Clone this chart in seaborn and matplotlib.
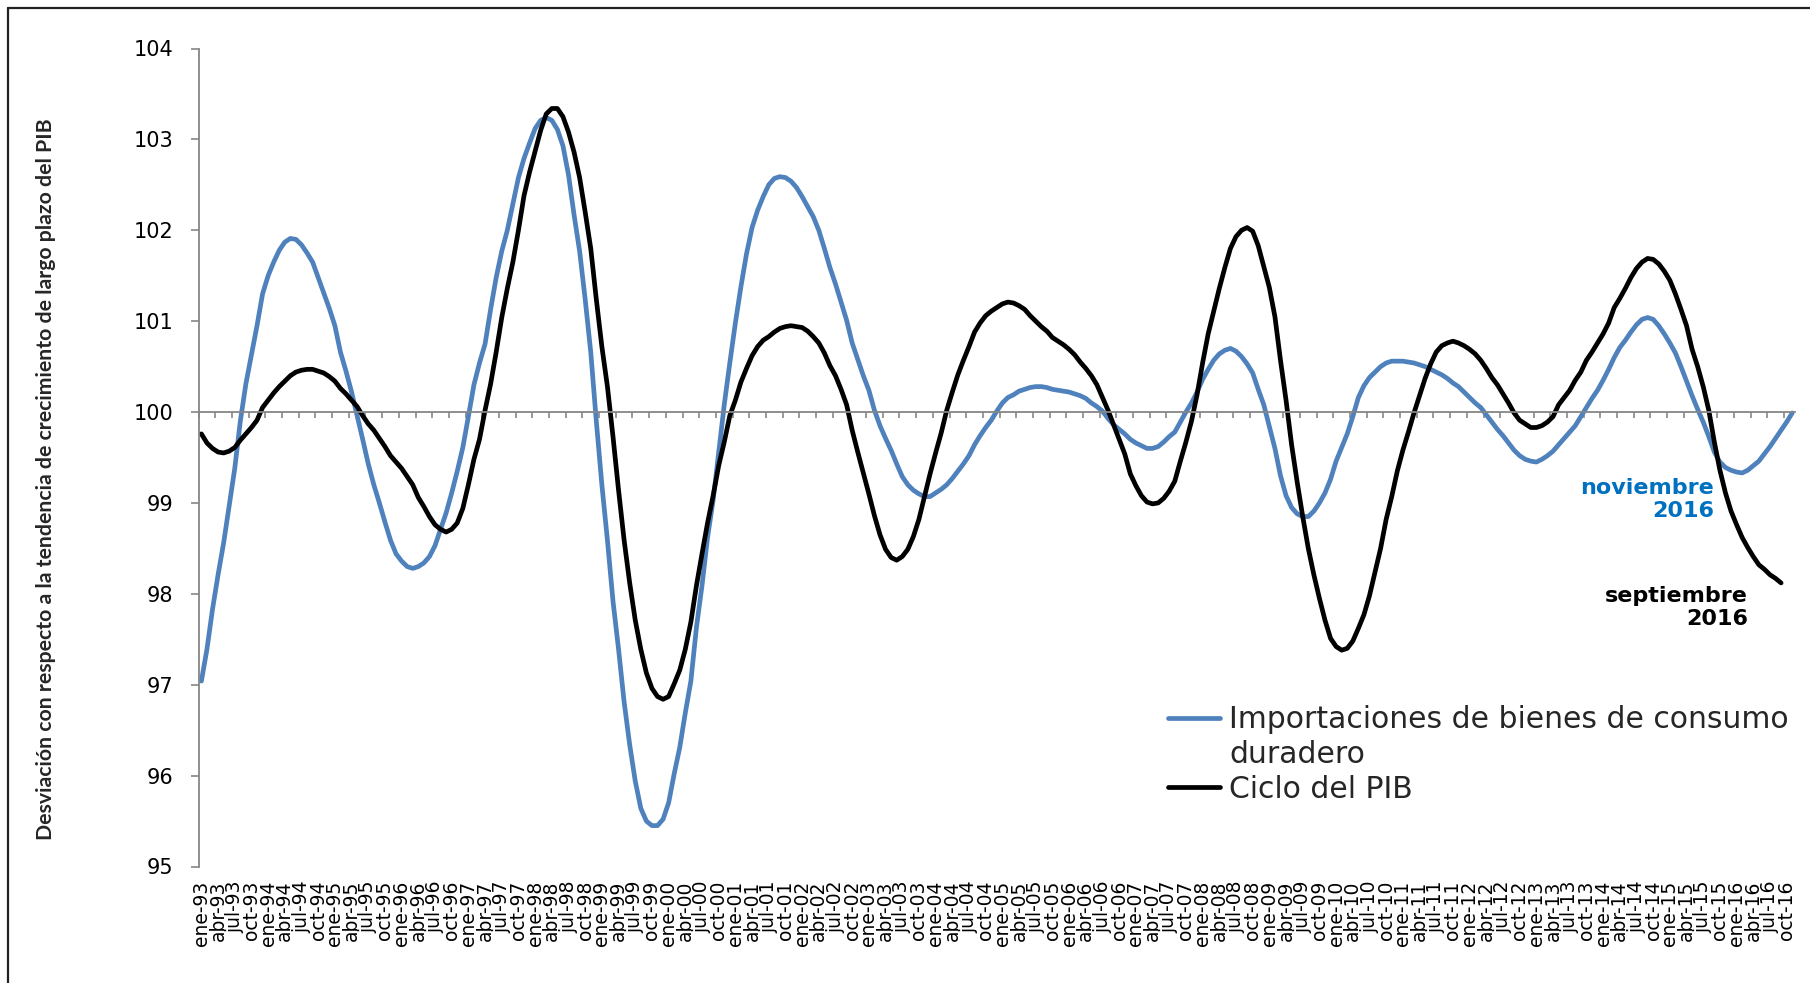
import numpy as np
import pandas as pd
import matplotlib
matplotlib.use("Agg")
import matplotlib.pyplot as plt
import seaborn as sns
from matplotlib.lines import Line2D

# ---------------- data ----------------
meses = ["ene", "feb", "mar", "abr", "may", "jun", "jul", "ago", "sep", "oct", "nov", "dic"]
anios = list(range(1993, 2017))

# Importaciones de bienes de consumo duradero (ene-93 .. nov-16)
importaciones = [
    97.04, 97.39, 97.83, 98.21, 98.56, 98.97, 99.38, 99.90, 100.31, 100.63, 100.95, 101.30,   # 1993
    101.50, 101.65, 101.78, 101.87, 101.91, 101.90, 101.84, 101.75, 101.65, 101.48, 101.31, 101.14,  # 1994
    100.95, 100.66, 100.45, 100.22, 99.96, 99.70, 99.43, 99.20, 99.00, 98.79, 98.59, 98.44,   # 1995
    98.36, 98.30, 98.28, 98.30, 98.34, 98.41, 98.53, 98.71, 98.89, 99.11, 99.35, 99.61,       # 1996
    99.95, 100.30, 100.54, 100.75, 101.13, 101.48, 101.77, 102.00, 102.29, 102.58, 102.79, 102.96,  # 1997
    103.12, 103.21, 103.24, 103.21, 103.11, 102.93, 102.61, 102.17, 101.77, 101.24, 100.66, 99.90,  # 1998
    99.20, 98.59, 97.92, 97.39, 96.81, 96.34, 95.94, 95.64, 95.50, 95.45, 95.45, 95.52,       # 1999
    95.70, 96.02, 96.31, 96.69, 97.04, 97.63, 98.09, 98.62, 99.03, 99.55, 100.08, 100.54,     # 2000
    100.98, 101.38, 101.74, 102.03, 102.22, 102.37, 102.50, 102.57, 102.59, 102.58, 102.54, 102.47,  # 2001
    102.37, 102.26, 102.15, 102.00, 101.80, 101.59, 101.41, 101.21, 101.01, 100.76, 100.58, 100.40,  # 2002
    100.24, 100.02, 99.85, 99.71, 99.58, 99.43, 99.29, 99.20, 99.14, 99.10, 99.07, 99.07,     # 2003
    99.11, 99.15, 99.20, 99.27, 99.35, 99.43, 99.52, 99.64, 99.74, 99.83, 99.91, 100.01,      # 2004
    100.10, 100.16, 100.19, 100.23, 100.25, 100.27, 100.28, 100.28, 100.27, 100.25, 100.24, 100.23,  # 2005
    100.22, 100.20, 100.18, 100.15, 100.10, 100.06, 100.01, 99.93, 99.86, 99.81, 99.76, 99.70,  # 2006
    99.66, 99.63, 99.60, 99.60, 99.62, 99.67, 99.73, 99.78, 99.89, 100.00, 100.10, 100.22,    # 2007
    100.36, 100.47, 100.57, 100.64, 100.68, 100.70, 100.67, 100.61, 100.53, 100.43, 100.25, 100.08,  # 2008
    99.84, 99.60, 99.30, 99.08, 98.95, 98.88, 98.85, 98.85, 98.91, 99.00, 99.11, 99.26,       # 2009
    99.46, 99.61, 99.76, 99.95, 100.16, 100.29, 100.38, 100.44, 100.50, 100.54, 100.56, 100.56,  # 2010
    100.56, 100.55, 100.54, 100.52, 100.50, 100.47, 100.44, 100.41, 100.37, 100.32, 100.28, 100.22,  # 2011
    100.16, 100.10, 100.05, 99.97, 99.89, 99.81, 99.74, 99.66, 99.58, 99.52, 99.48, 99.46,    # 2012
    99.45, 99.48, 99.52, 99.57, 99.64, 99.71, 99.78, 99.85, 99.95, 100.05, 100.15, 100.24,    # 2013
    100.35, 100.47, 100.60, 100.71, 100.79, 100.88, 100.96, 101.02, 101.04, 101.02, 100.95, 100.86,  # 2014
    100.76, 100.65, 100.50, 100.34, 100.18, 100.03, 99.89, 99.73, 99.56, 99.45, 99.39, 99.36,  # 2015
    99.34, 99.33, 99.36, 99.41, 99.46, 99.54, 99.62, 99.71, 99.80, 99.89, 99.99,              # 2016 (a nov)
]

# Ciclo del PIB (ene-93 .. sep-16)
ciclo_pib = [
    99.76, 99.66, 99.60, 99.56, 99.55, 99.57, 99.61, 99.69, 99.76, 99.83, 99.91, 100.05,      # 1993
    100.13, 100.21, 100.28, 100.34, 100.40, 100.44, 100.46, 100.47, 100.47, 100.45, 100.43, 100.39,  # 1994
    100.34, 100.26, 100.20, 100.13, 100.06, 99.96, 99.87, 99.80, 99.71, 99.62, 99.52, 99.45,  # 1995
    99.38, 99.29, 99.20, 99.06, 98.96, 98.85, 98.76, 98.71, 98.68, 98.71, 98.78, 98.94,       # 1996
    99.20, 99.48, 99.70, 100.02, 100.31, 100.66, 101.04, 101.36, 101.65, 102.00, 102.38, 102.64,  # 1997
    102.87, 103.10, 103.28, 103.34, 103.34, 103.25, 103.08, 102.86, 102.58, 102.20, 101.80, 101.24,  # 1998
    100.72, 100.28, 99.73, 99.14, 98.59, 98.12, 97.71, 97.39, 97.13, 96.96, 96.87, 96.84,     # 1999
    96.87, 97.01, 97.16, 97.39, 97.69, 98.09, 98.44, 98.78, 99.08, 99.41, 99.67, 99.96,       # 2000
    100.13, 100.33, 100.48, 100.62, 100.72, 100.79, 100.83, 100.88, 100.92, 100.94, 100.95, 100.94,  # 2001
    100.93, 100.89, 100.83, 100.76, 100.65, 100.51, 100.40, 100.25, 100.08, 99.80, 99.56, 99.33,  # 2002
    99.10, 98.86, 98.65, 98.49, 98.40, 98.37, 98.41, 98.49, 98.63, 98.82, 99.07, 99.32,       # 2003
    99.55, 99.77, 100.02, 100.22, 100.41, 100.57, 100.72, 100.88, 100.98, 101.06, 101.11, 101.15,  # 2004
    101.19, 101.21, 101.20, 101.17, 101.13, 101.06, 101.00, 100.94, 100.89, 100.82, 100.78, 100.74,  # 2005
    100.69, 100.63, 100.55, 100.48, 100.40, 100.30, 100.16, 100.02, 99.86, 99.70, 99.54, 99.32,  # 2006
    99.19, 99.08, 99.01, 98.99, 99.00, 99.05, 99.13, 99.24, 99.46, 99.67, 99.90, 100.19,      # 2007
    100.54, 100.86, 101.11, 101.36, 101.59, 101.80, 101.93, 102.00, 102.03, 101.99, 101.83, 101.60,  # 2008
    101.37, 101.05, 100.57, 100.13, 99.64, 99.23, 98.85, 98.50, 98.21, 97.95, 97.71, 97.51,   # 2009
    97.42, 97.38, 97.40, 97.48, 97.62, 97.77, 97.98, 98.24, 98.50, 98.82, 99.07, 99.35,       # 2010
    99.58, 99.78, 99.99, 100.18, 100.37, 100.53, 100.66, 100.73, 100.76, 100.78, 100.76, 100.73,  # 2011
    100.69, 100.64, 100.57, 100.48, 100.38, 100.30, 100.20, 100.10, 99.99, 99.91, 99.87, 99.83,  # 2012
    99.83, 99.85, 99.89, 99.95, 100.08, 100.16, 100.24, 100.35, 100.44, 100.57, 100.66, 100.76,  # 2013
    100.86, 100.98, 101.15, 101.25, 101.36, 101.48, 101.58, 101.65, 101.69, 101.68, 101.63, 101.55,  # 2014
    101.45, 101.30, 101.13, 100.95, 100.69, 100.50, 100.28, 100.02, 99.67, 99.36, 99.11, 98.91,  # 2015
    98.76, 98.62, 98.51, 98.41, 98.32, 98.27, 98.21, 98.17, 98.12,                            # 2016 (a sep)
]

serie_imp = "Importaciones de bienes de consumo"
serie_imp_2 = "duradero"
serie_pib = "Ciclo del PIB"
titulo_y = "Desviación con respecto a la tendencia de crecimiento de largo plazo del PIB"
nota_imp = "noviembre\n2016"
nota_pib = "septiembre\n2016"

fechas = [f"{m}-{str(a)[2:]}" for a in anios for m in meses]
etiquetas = fechas[0:286:3]          # ene-93 ... oct-16 (trimestral)
y_ticks = list(range(95, 105))

# ---------------- figure ----------------
sns.set_theme(style="white")
plt.rcParams["font.family"] = ["DejaVu Sans"]

W, H = 1810, 983
fig = plt.figure(figsize=(W / 100, H / 100), dpi=100)
ax = fig.add_axes([198.6 / W, 1 - 866.5 / H, (1795 - 198.6) / W, (866.5 - 48.5) / H])

azul = "#4F81BD"
df_imp = pd.DataFrame({"mes": np.arange(len(importaciones)), "valor": importaciones})
df_pib = pd.DataFrame({"mes": np.arange(len(ciclo_pib)), "valor": ciclo_pib})

sns.lineplot(data=df_imp, x="mes", y="valor", ax=ax, color=azul, linewidth=3.4)
sns.lineplot(data=df_pib, x="mes", y="valor", ax=ax, color="black", linewidth=3.4)

ax.set_xlim(-0.5, 286.5)
ax.set_ylim(95, 104)
ax.set_xlabel("")
ax.set_ylabel("")

grey = "#868686"
for s in ["top", "right"]:
    ax.spines[s].set_visible(False)
ax.spines["left"].set_color(grey)
ax.spines["left"].set_linewidth(1.3)
ax.spines["bottom"].set_position(("data", 100))
ax.spines["bottom"].set_color(grey)
ax.spines["bottom"].set_linewidth(1.3)

ax.set_yticks(y_ticks)
ax.tick_params(axis="y", direction="out", length=6, width=1.2, color=grey,
               labelsize=15, pad=12, labelcolor="black", left=True)

# tick marks on the category axis (crossing at 100), every 3 months
ax.set_xticks(np.arange(-0.5, 287, 3))
ax.tick_params(axis="x", direction="out", length=4, width=1.2, color=grey,
               labelbottom=False, bottom=True)

# quarterly labels at the bottom of the plot
sec = ax.secondary_xaxis("bottom")
sec.set_xticks(np.arange(0, 286, 3), labels=etiquetas)
sec.tick_params(axis="x", length=0, pad=10, labelsize=13.5, labelrotation=90,
                labelcolor="black")
sec.spines["bottom"].set_visible(False)

# legend (label of the first series wraps onto a second line)
handles = [Line2D([], [], color=azul, linewidth=3.4),
           Line2D([], [], color="none", linewidth=0),
           Line2D([], [], color="black", linewidth=3.4)]
leg = ax.legend(handles, [serie_imp, serie_imp_2, serie_pib], loc="upper left",
                bbox_to_anchor=(1168 / W, 1 - 705 / H),
                bbox_transform=fig.transFigure, frameon=False, fontsize=21.5,
                handlelength=1.75, handletextpad=0.3, borderpad=0, borderaxespad=0,
                labelspacing=0.2)

# y title
fig.text(46 / W, 1 - 479 / H, titulo_y, rotation=90, ha="center", va="center",
         fontsize=15.3, fontweight="bold", family=["Lato", "DejaVu Sans"])

# end annotations
fig.text(1714 / W, 1 - 499.5 / H, nota_imp, ha="right", va="center", multialignment="right",
         fontsize=16, fontweight="bold", color="#0070C0", linespacing=1.2)
fig.text(1748 / W, 1 - 607.5 / H, nota_pib, ha="right", va="center", multialignment="right",
         fontsize=16, fontweight="bold", color="black", linespacing=1.2)

# chart frame (top and left edges visible)
fig.add_artist(Line2D([8 / W, 1.0], [1 - 8 / H, 1 - 8 / H], transform=fig.transFigure,
                      color="#222222", linewidth=1.6))
fig.add_artist(Line2D([8 / W, 8 / W], [0.0, 1 - 8 / H], transform=fig.transFigure,
                      color="#222222", linewidth=1.6))

fig.savefig("out.png", dpi=100)
